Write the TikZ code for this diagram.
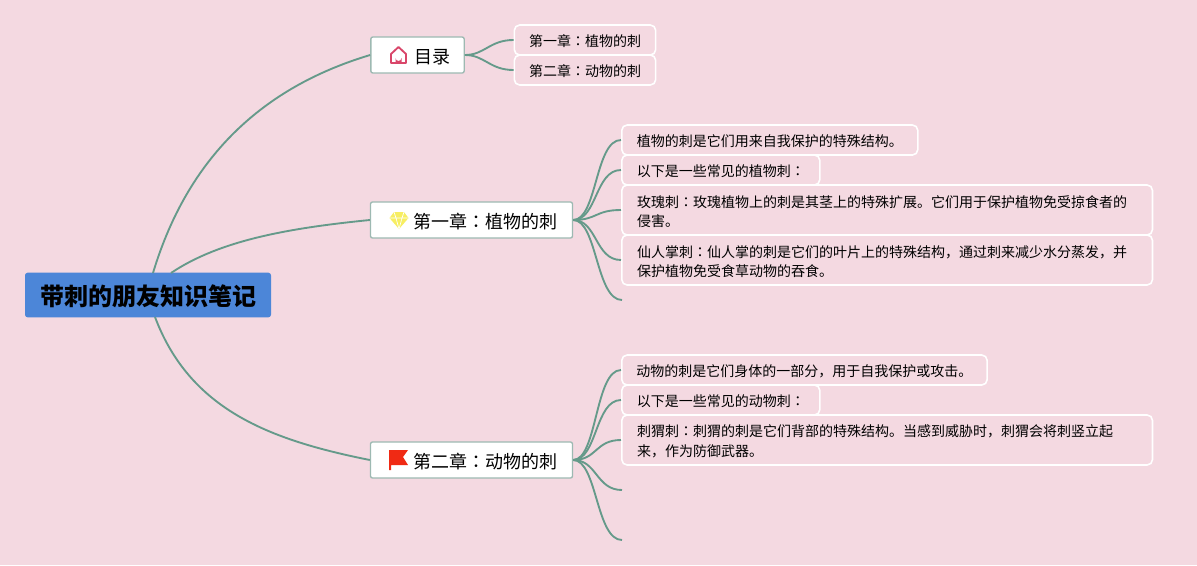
\documentclass[tikz,border=0pt]{standalone}
\usepackage{fontspec}
\setmainfont{Noto Sans CJK SC}
\newfontfamily\colonfont{Noto Sans CJK TC}
\newcommand{\midcolon}{{\colonfont ：}}
\usetikzlibrary{positioning,calc}
\definecolor{bgpink}{HTML}{F4D9E1}
\definecolor{branch}{HTML}{659A8A}
\definecolor{rootblue}{HTML}{4C86D8}
\definecolor{edgegray}{HTML}{9DB9B2}
\definecolor{homered}{HTML}{D9466A}
\definecolor{gemyellow}{HTML}{F7EE62}
\definecolor{flagred}{HTML}{F02A14}

\begin{document}
\begin{tikzpicture}[
    x=0.75pt, y=-0.75pt,
    root/.style={
        rectangle, fill=rootblue, rounded corners=2pt,
        minimum width=184.5pt, minimum height=33.5pt,
        inner sep=0pt, font=\fontsize{18}{22}\selectfont\bfseries,
        execute at begin node={\rule{0pt}{18pt}}
    },
    chapter/.style={
        rectangle, draw=edgegray, fill=white, line width=1pt, rounded corners=1.5pt,
        minimum height=27pt, inner sep=0pt, font=\fontsize{13.5}{16}\selectfont,
        execute at begin node={\rule{0pt}{14.1pt}}
    },
    leaf/.style={
        rectangle, draw=white, line width=1.2pt, rounded corners=4pt,
        minimum height=22.5pt, inner sep=0pt, font=\fontsize{10.5}{14.6}\selectfont,
        execute at begin node={\rule{0pt}{11.2pt}}
    },
    tall/.style={leaf, minimum height=37.5pt, minimum width=398pt, text width=375pt, align=left},
    conn/.style={draw=branch, line width=1.4pt}
]
    \useasboundingbox[fill=bgpink] (0,0) rectangle (1197,565);

    % Nodes
    \node[root] (book) at (148,295) {\hspace*{1.5pt}带刺的朋友知识笔记};

    \node[chapter, minimum width=70pt] (toc) at (417.5,55) {\hspace*{22pt}目录};
    \node[chapter, minimum width=151.5pt] (ch1) at (471.5,220) {\hspace*{21.5pt}第一章\midcolon 植物的刺};
    \node[chapter, minimum width=151.5pt] (ch2) at (471.5,460) {\hspace*{21.5pt}第二章\midcolon 动物的刺};

    \node[leaf, minimum width=106pt] (tocA) at (585,40) {第一章\midcolon 植物的刺};
    \node[leaf, minimum width=106pt] (tocB) at (585,70) {第二章\midcolon 动物的刺};

    \node[leaf, minimum width=222pt, anchor=west] (plantA) at (621,140) {植物的刺是它们用来自我保护的特殊结构。};
    \node[leaf, minimum width=148.5pt, anchor=west] (plantB) at (621,170) {以下是一些常见的植物刺\midcolon};
    \node[tall, anchor=west] (plantC) at (621,210) {玫瑰刺\midcolon 玫瑰植物上的刺是其茎上的特殊扩展。它们用于保护植物免受掠食者的\\侵害。};
    \node[tall, anchor=west] (plantD) at (621,260) {仙人掌刺\midcolon 仙人掌的刺是它们的叶片上的特殊结构，通过刺来减少水分蒸发，并\\保护植物免受食草动物的吞食。};
    \coordinate (plantE) at (622,300);

    \node[leaf, minimum width=274pt, anchor=west] (animalA) at (621,370) {动物的刺是它们身体的一部分，用于自我保护或攻击。};
    \node[leaf, minimum width=148.5pt, anchor=west] (animalB) at (621,400) {以下是一些常见的动物刺\midcolon};
    \node[tall, anchor=west] (animalC) at (621,440) {刺猬刺\midcolon 刺猬的刺是它们背部的特殊结构。当感到威胁时，刺猬会将刺竖立起\\来，作为防御武器。};
    \coordinate (animalD) at (622,490);
    \coordinate (animalE) at (622,540);

    % Connections
    \draw[conn] (153,273) .. controls (190,150) and (270,85) .. (toc.west);
    \draw[conn] (171,273) .. controls (220,240) and (290,228) .. (ch1.west);
    \draw[conn] (155,317) .. controls (190,410) and (270,440) .. (ch2.west);

    \foreach \leafname in {tocA,tocB}
        \draw[conn] (toc.east) .. controls +(20,0) and ($(\leafname.west)+(-24,0)$) .. (\leafname.west);
    \foreach \leafname in {plantA,plantB,plantC,plantD,plantE}
        \draw[conn] (ch1.east) .. controls +(24,0) and ($(\leafname.west)+(-26,0)$) .. (\leafname.west);
    \foreach \leafname in {animalA,animalB,animalC,animalD,animalE}
        \draw[conn] (ch2.east) .. controls +(24,0) and ($(\leafname.west)+(-26,0)$) .. (\leafname.west);

    % Icons
    \draw[homered, line width=1.4pt, line join=round] (391,54) -- (398.5,47) -- (406,54) -- (406,63) -- (391,63) -- cycle;
    \fill[homered] (395.5,63) -- (395.5,58) arc[start angle=180, end angle=0, radius=3] -- (401.5,63) -- cycle;

    \fill[gemyellow] (394,212) -- (404,212) -- (408.5,218) -- (399,229) -- (389.5,218) -- cycle;
    \draw[white, line width=0.5pt] (390,218) -- (408,218) (394,212) -- (396,218) -- (399,229) -- (402,218) -- (404,212);

    \fill[flagred] (389,450) -- (408,450) -- (403,457) -- (408,465) -- (391,465) -- (391,470) -- (389,470) -- cycle;
\end{tikzpicture}
\end{document}
